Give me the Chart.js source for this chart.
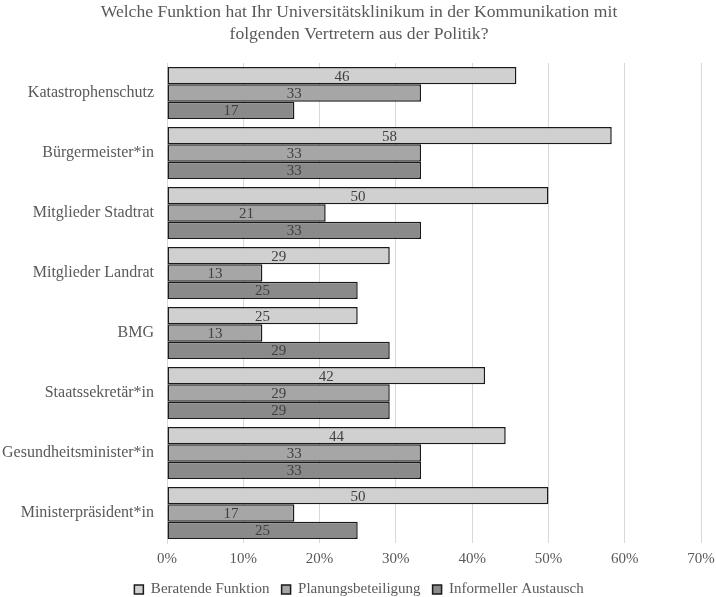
<!DOCTYPE html>
<html>
<head>
<meta charset="utf-8">
<script src="https://cdn.jsdelivr.net/npm/chart.js@4"></script>
<style>
  html, body { margin: 0; padding: 0; background: #fff; }
  #wrap { width: 716px; height: 597px; }
</style>
</head>
<body>
<div id="wrap"><canvas id="chart" width="716" height="597"></canvas></div>
<script>
// categories and values (percent)
const categories = ['Katastrophenschutz', 'Bürgermeister*in', 'Mitglieder Stadtrat', 'Mitglieder Landrat',
  'BMG', 'Staatssekretär*in', 'Gesundheitsminister*in', 'Ministerpräsident*in'];
const beratend = [45.8, 58.3, 50, 29.2, 25, 41.7, 44.4, 50];
const planung = [33.3, 33.3, 20.8, 12.5, 12.5, 29.2, 33.3, 16.7];
const informell = [16.7, 33.3, 33.3, 25, 29.2, 29.2, 33.3, 25];
const xTicks = [0, 10, 20, 30, 40, 50, 60, 70];

const serif = '"Liberation Serif", "DejaVu Serif", serif';

// draw the value in the middle of each bar
const barLabels = {
  id: 'barLabels',
  afterDatasetsDraw(chart) {
    const ctx = chart.ctx;
    ctx.save();
    ctx.font = '15px ' + serif;
    ctx.fillStyle = '#404040';
    ctx.textAlign = 'center';
    ctx.textBaseline = 'middle';
    chart.data.datasets.forEach((ds, i) => {
      chart.getDatasetMeta(i).data.forEach((bar, j) => {
        const x = (bar.x + bar.base) / 2;
        ctx.fillText(Math.round(ds.data[j]), x, bar.y + 1);
      });
    });
    ctx.restore();
  }
};

new Chart(document.querySelector('#chart').getContext('2d'), {
  type: 'bar',
  data: {
    labels: categories,
    datasets: [
      { label: 'Beratende Funktion', data: beratend, backgroundColor: '#d0d0d0' },
      { label: 'Planungsbeteiligung', data: planung, backgroundColor: '#a6a6a6' },
      { label: 'Informeller Austausch', data: informell, backgroundColor: '#8a8a8a' }
    ].map(d => Object.assign(d, { borderColor: '#1a1a1a', borderWidth: 1.5, borderSkipped: false }))
  },
  options: {
    indexAxis: 'y',
    responsive: false,
    animation: false,
    layout: { padding: { left: 2, right: 0, top: 1, bottom: -10 } },
    datasets: { bar: { categoryPercentage: 0.87, barPercentage: 1 } },
    scales: {
      x: {
        min: 0, max: 70,
        afterBuildTicks: s => { s.ticks = xTicks.map(v => ({ value: v })); },
        afterFit: s => { s.height -= 5; s.paddingRight = 15; },
        ticks: { callback: v => v + '%', color: '#595959', font: { family: serif, size: 15 }, padding: 7 },
        grid: { color: '#d9d9d9', drawTicks: false },
        border: { display: false }
      },
      y: {
        afterFit: s => { s.width = 165; },
        ticks: { color: '#595959', font: { family: serif, size: 16 }, padding: 13 },
        grid: { display: false, drawTicks: false },
        border: { color: '#d9d9d9' }
      }
    },
    plugins: {
      title: {
        display: true,
        text: ['Welche Funktion hat Ihr Universitätsklinikum in der Kommunikation mit',
               'folgenden Vertretern aus der Politik?'],
        color: '#595959',
        font: { family: serif, size: 17.6, weight: 'normal', lineHeight: 1.25 },
        padding: { top: 0, bottom: 18 }
      },
      legend: {
        position: 'bottom',
        labels: { boxWidth: 9, boxHeight: 9, color: '#595959', font: { family: serif, size: 15 }, padding: 12 }
      },
      tooltip: { enabled: false }
    }
  },
  plugins: [barLabels]
});
</script>
</body>
</html>
